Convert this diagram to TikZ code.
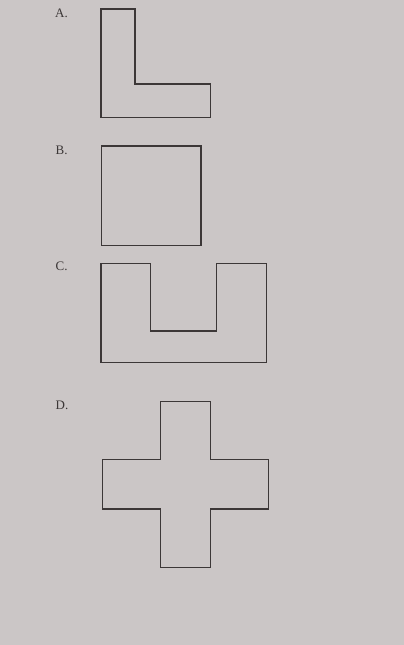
\documentclass[tikz,border=0pt]{standalone}
\usepackage{fontspec}
\setmainfont{Liberation Serif}
\definecolor{paper}{RGB}{203,198,198}
\definecolor{ink}{RGB}{60,55,55}
\begin{document}
\begin{tikzpicture}[x=1pt,y=-1pt,
  shape line/.style={draw=ink,line width=1.3pt,line join=miter},
  lab/.style={anchor=west,inner sep=0pt,text=ink,font=\fontsize{13}{13}\selectfont}]
\fill[paper] (0,0) rectangle (404,645);
\useasboundingbox (0,0) rectangle (404,645);
% A
\node[lab] (la) at (55,13) {A.};
\draw[shape line] (101,9) -- (135,9) -- (135,84) -- (210.5,84) -- (210.5,117.5) -- (101,117.5) -- cycle;
% B
\node[lab] (lb) at (55.5,150) {B.};
\draw[shape line] (101.5,146) rectangle (201,245.5);
% C
\node[lab] (lc) at (55.5,266) {C.};
\draw[shape line] (101,263.5) -- (150.5,263.5) -- (150.5,331) -- (216.5,331) -- (216.5,263.5) -- (266.5,263.5) -- (266.5,362.5) -- (101,362.5) -- cycle;
% D
\node[lab] (ld) at (55.5,405) {D.};
\draw[shape line] (160.5,401.5) -- (210.5,401.5) -- (210.5,459.5) -- (268.5,459.5) -- (268.5,509) -- (210.5,509) -- (210.5,567.5) -- (160.5,567.5) -- (160.5,509) -- (102.5,509) -- (102.5,459.5) -- (160.5,459.5) -- cycle;
\end{tikzpicture}
\end{document}
